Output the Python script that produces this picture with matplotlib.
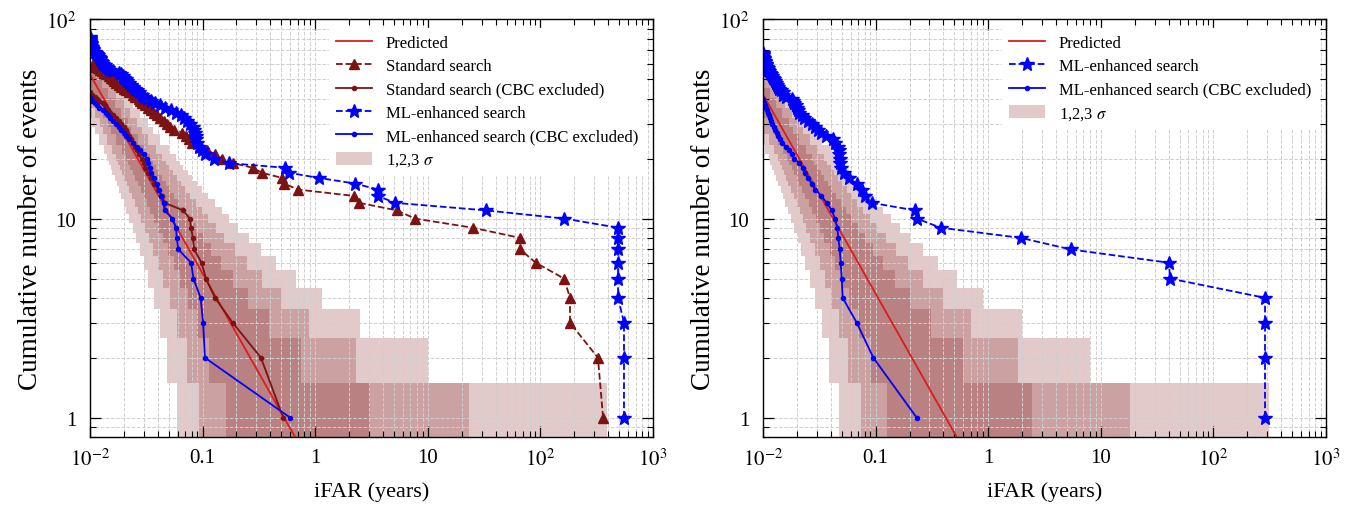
import numpy as np
import matplotlib
matplotlib.use('Agg')
from matplotlib import pyplot as plt
from matplotlib.ticker import FuncFormatter, LogLocator, NullFormatter

plt.rcParams['font.family'] = ['Liberation Serif', 'DejaVu Serif']
plt.rcParams['mathtext.fontset'] = 'stix'

# ---- data (iFAR in years, cumulative number of events = rank) ----
std_ifar = [360, 324, 183, 183, 162, 91, 66, 66, 25, 7.7, 5.3, 2.45, 2.2, 0.70, 0.53,
            0.51, 0.335, 0.28, 0.185, 0.148, 0.129, 0.11, 0.095, 0.08, 0.076, 0.071,
            0.066, 0.056, 0.051, 0.048, 0.045, 0.042, 0.039, 0.037, 0.035, 0.033,
            0.031, 0.029, 0.028, 0.027, 0.025, 0.024, 0.022, 0.021, 0.020, 0.019,
            0.018, 0.017, 0.0165, 0.016, 0.0153, 0.0147, 0.014, 0.0134, 0.0128,
            0.0122, 0.0117, 0.0113, 0.011, 0.0107]

std_cbc_ifar = [0.52, 0.33, 0.185, 0.129, 0.107, 0.098, 0.084, 0.082, 0.079, 0.077,
                0.067, 0.046, 0.044, 0.040, 0.037, 0.035, 0.033, 0.031, 0.030, 0.029,
                0.027, 0.026, 0.025, 0.024, 0.023, 0.022, 0.0215, 0.021, 0.020, 0.019,
                0.018, 0.017, 0.016, 0.015, 0.0145, 0.014, 0.0135, 0.013, 0.012,
                0.0115, 0.011, 0.0105, 0.010]

ml_ifar = [552, 552, 552, 489, 489, 489, 489, 489, 489, 163, 32.7, 5.1, 3.6, 3.6, 2.26,
           1.08, 0.58, 0.54, 0.17, 0.125, 0.105, 0.098, 0.092, 0.089, 0.088, 0.087,
           0.086, 0.084, 0.083, 0.078, 0.072, 0.068, 0.064, 0.058, 0.052, 0.046, 0.042,
           0.038, 0.035, 0.032, 0.030, 0.029, 0.027, 0.026, 0.025, 0.024, 0.023, 0.022,
           0.0215, 0.021, 0.020, 0.0195, 0.019, 0.018, 0.016, 0.015, 0.0145, 0.014,
           0.0135, 0.013, 0.0128, 0.0126, 0.0124, 0.0122, 0.012, 0.0118, 0.0115, 0.0112,
           0.011, 0.0107, 0.0106, 0.0105, 0.0104, 0.0103, 0.0102, 0.0102, 0.0101,
           0.0101, 0.0100, 0.0100, 0.0100, 0.0100]

ml_cbc_ifar = [0.60, 0.105, 0.101, 0.096, 0.083, 0.079, 0.061, 0.059, 0.058, 0.054,
               0.046, 0.045, 0.043, 0.041, 0.039, 0.037, 0.035, 0.034, 0.033, 0.032,
               0.030, 0.028, 0.026, 0.024, 0.022, 0.021, 0.020, 0.019, 0.018, 0.017,
               0.016, 0.015, 0.0145, 0.014, 0.013, 0.012, 0.0115, 0.011, 0.0105, 0.0102,
               0.0101]

ml2_ifar = [287, 287, 287, 287, 41, 40.4, 5.4, 1.95, 0.378, 0.232, 0.224, 0.092, 0.08,
            0.075, 0.068, 0.058, 0.052, 0.049, 0.0485, 0.048, 0.0475, 0.047, 0.046,
            0.044, 0.042, 0.036, 0.033, 0.031, 0.029, 0.027, 0.025, 0.023, 0.022, 0.021,
            0.0205, 0.020, 0.0195, 0.019, 0.0185, 0.018, 0.016, 0.0152, 0.015, 0.0145,
            0.014, 0.0137, 0.0134, 0.0131, 0.0128, 0.0125, 0.0122, 0.012, 0.0118, 0.0115,
            0.0113, 0.0111, 0.011, 0.0108, 0.0107, 0.0106, 0.0105, 0.0104, 0.0103,
            0.0102, 0.0101, 0.0101, 0.0100, 0.0100]

ml2_cbc_ifar = [0.232, 0.0955, 0.068, 0.051, 0.050, 0.049, 0.048, 0.0467, 0.0457,
                0.0436, 0.0408, 0.0368, 0.033, 0.029, 0.027, 0.025, 0.0235, 0.0225,
                0.021, 0.019, 0.018, 0.017, 0.016, 0.0148, 0.0142, 0.0137, 0.0132,
                0.0128, 0.0124, 0.0121, 0.0118, 0.0115, 0.0112, 0.011, 0.0108, 0.0106,
                0.0104, 0.0102, 0.0101, 0.0099]

# observing time (years) of each panel
obs_left = 0.53
obs_right = 0.42

# Poisson 1,2,3 sigma limits on the expected count for each observed count
band_n = [1, 2, 3, 4, 5, 6, 7, 8, 9, 10, 11, 12, 13, 14, 15, 16, 17, 18, 19, 20,
          22, 25, 28, 30, 34, 38, 43, 48, 54, 60]
lam_lo = {
    1: [0.173, 0.708, 1.367, 2.086, 2.840, 3.620, 4.419, 5.232, 6.057, 6.891, 7.739,
        8.589, 9.445, 10.31, 11.17, 12.05, 12.92, 13.80, 14.68, 15.57, 17.35, 20.04,
        22.74, 24.56, 28.20, 31.87, 36.47, 41.10, 46.68, 52.28],
    2: [0.0230, 0.230, 0.596, 1.058, 1.583, 2.153, 2.758, 3.391, 4.046, 4.719, 5.401,
        6.104, 6.821, 7.548, 8.284, 9.030, 9.782, 10.54, 11.31, 12.08, 13.65, 16.02,
        18.44, 20.07, 23.36, 26.69, 30.91, 35.16, 40.32, 45.53],
    3: [0.00135, 0.0529, 0.212, 0.465, 0.792, 1.175, 1.603, 2.068, 2.563, 3.084, 3.589,
        4.152, 4.734, 5.330, 5.941, 6.564, 7.198, 7.843, 8.498, 9.160, 10.51, 12.59,
        14.72, 16.16, 19.11, 22.11, 25.94, 29.83, 34.57, 39.38],
}
lam_hi = {
    1: [3.300, 4.638, 5.918, 7.163, 8.382, 9.584, 10.77, 11.95, 13.11, 14.27, 15.41,
        16.55, 17.69, 18.83, 19.95, 21.08, 22.20, 23.32, 24.43, 25.54, 27.76, 31.06,
        34.35, 36.54, 40.88, 45.22, 50.60, 55.97, 62.39, 68.79],
    2: [5.683, 7.348, 8.902, 10.39, 11.82, 13.22, 14.59, 15.94, 17.27, 18.58, 19.88,
        21.16, 22.44, 23.70, 24.96, 26.20, 27.45, 28.68, 29.91, 31.13, 33.55, 37.16,
        40.74, 43.11, 47.80, 52.46, 58.24, 63.98, 70.81, 77.60],
    3: [8.900, 10.87, 12.68, 14.39, 16.03, 17.62, 19.17, 20.69, 22.18, 23.65, 25.13,
        26.55, 27.96, 29.35, 30.73, 32.10, 33.46, 34.80, 36.14, 37.47, 40.11, 44.02,
        47.87, 50.42, 55.46, 60.45, 66.61, 72.71, 79.96, 87.14],
}

c_std = '#7d1212'
c_ml = '#0000ff'
c_pred = '#dd1c1c'
c_band = '#7d1212'


def log_label(v, pos):
    if v in (0.1, 1, 10):
        return '%g' % v
    return r'$10^{%d}$' % int(round(np.log10(v)))


def draw_bands(ax, T):
    n = np.array(band_n, dtype=float)
    edges = np.concatenate([[n[0] - 0.5], (n[:-1] + n[1:]) / 2, [n[-1] + 0.5]])
    for k in (1, 2, 3):
        x1 = T / np.array(lam_hi[k])
        x2 = T / np.array(lam_lo[k])
        x1 = np.append(x1, x1[-1])
        x2 = np.append(x2, x2[-1])
        ax.fill_betweenx(edges, x1, x2, step='post', color=c_band, alpha=0.22,
                         linewidth=0, label=r'1,2,3 $\sigma$' if k == 1 else None)


def style(ax):
    ax.set_xscale('log')
    ax.set_yscale('log')
    ax.set_xlim(1e-2, 1e3)
    ax.set_ylim(0.8, 100)
    ax.xaxis.set_major_locator(LogLocator(base=10, numticks=10))
    ax.xaxis.set_minor_locator(LogLocator(base=10, subs=np.arange(2, 10), numticks=20))
    ax.yaxis.set_major_locator(LogLocator(base=10, numticks=10))
    ax.yaxis.set_minor_locator(LogLocator(base=10, subs=np.arange(2, 10), numticks=20))
    ax.xaxis.set_major_formatter(FuncFormatter(log_label))
    ax.yaxis.set_major_formatter(FuncFormatter(log_label))
    ax.xaxis.set_minor_formatter(NullFormatter())
    ax.yaxis.set_minor_formatter(NullFormatter())
    ax.tick_params(which='both', direction='in', top=True, right=True, labelsize=15)
    ax.tick_params(which='major', length=8, width=0.9, pad=8)
    ax.tick_params(axis='y', which='major', pad=10)
    ax.tick_params(which='minor', length=4.5, width=0.8)
    ax.grid(True, which='both', ls='--', color='#cfcfcf', lw=0.7)
    for s in ax.spines.values():
        s.set_linewidth(1.0)
    ax.set_xlabel('iFAR (years)', fontsize=16, labelpad=8.5)
    ax.set_ylabel('Cumulative number of events', fontsize=19.5, labelpad=2)


fig = plt.figure(figsize=(13.49, 5.06), dpi=100)
ax1 = fig.add_axes([0.0667, 0.1344, 0.4174, 0.8251])
ax2 = fig.add_axes([0.5656, 0.1344, 0.4174, 0.8251])

# left panel
ax1.plot([0.01, 1], [obs_left / 0.01, obs_left], color=c_pred, lw=1.3, label='Predicted')
ax1.plot(std_ifar, np.arange(1, len(std_ifar) + 1), color=c_std, ls='--', lw=1.3,
         marker='^', ms=7.5, label='Standard search')
ax1.plot(std_cbc_ifar, np.arange(1, len(std_cbc_ifar) + 1), color=c_std, ls='-', lw=1.3,
         marker='o', ms=3, label='Standard search (CBC excluded)')
ax1.plot(ml_ifar, np.arange(1, len(ml_ifar) + 1), color=c_ml, ls='--', lw=1.3,
         marker='*', ms=10.5, label='ML-enhanced search')
ax1.plot(ml_cbc_ifar, np.arange(1, len(ml_cbc_ifar) + 1), color=c_ml, ls='-', lw=1.3,
         marker='o', ms=3, label='ML-enhanced search (CBC excluded)')
draw_bands(ax1, obs_left)
style(ax1)

# right panel
ax2.plot([0.01, 1], [obs_right / 0.01, obs_right], color=c_pred, lw=1.3, label='Predicted')
ax2.plot(ml2_ifar, np.arange(1, len(ml2_ifar) + 1), color=c_ml, ls='--', lw=1.3,
         marker='*', ms=10.5, label='ML-enhanced search')
ax2.plot(ml2_cbc_ifar, np.arange(1, len(ml2_cbc_ifar) + 1), color=c_ml, ls='-', lw=1.3,
         marker='o', ms=3, label='ML-enhanced search (CBC excluded)')
draw_bands(ax2, obs_right)
style(ax2)

for ax in (ax1, ax2):
    ax.legend(loc='upper right', fontsize=12, frameon=True, fancybox=False,
              edgecolor='white', framealpha=1, handlelength=2.2, handletextpad=0.8,
              handleheight=0.85, labelspacing=0.42, borderaxespad=0.5)

fig.savefig('out.png', dpi=100)
